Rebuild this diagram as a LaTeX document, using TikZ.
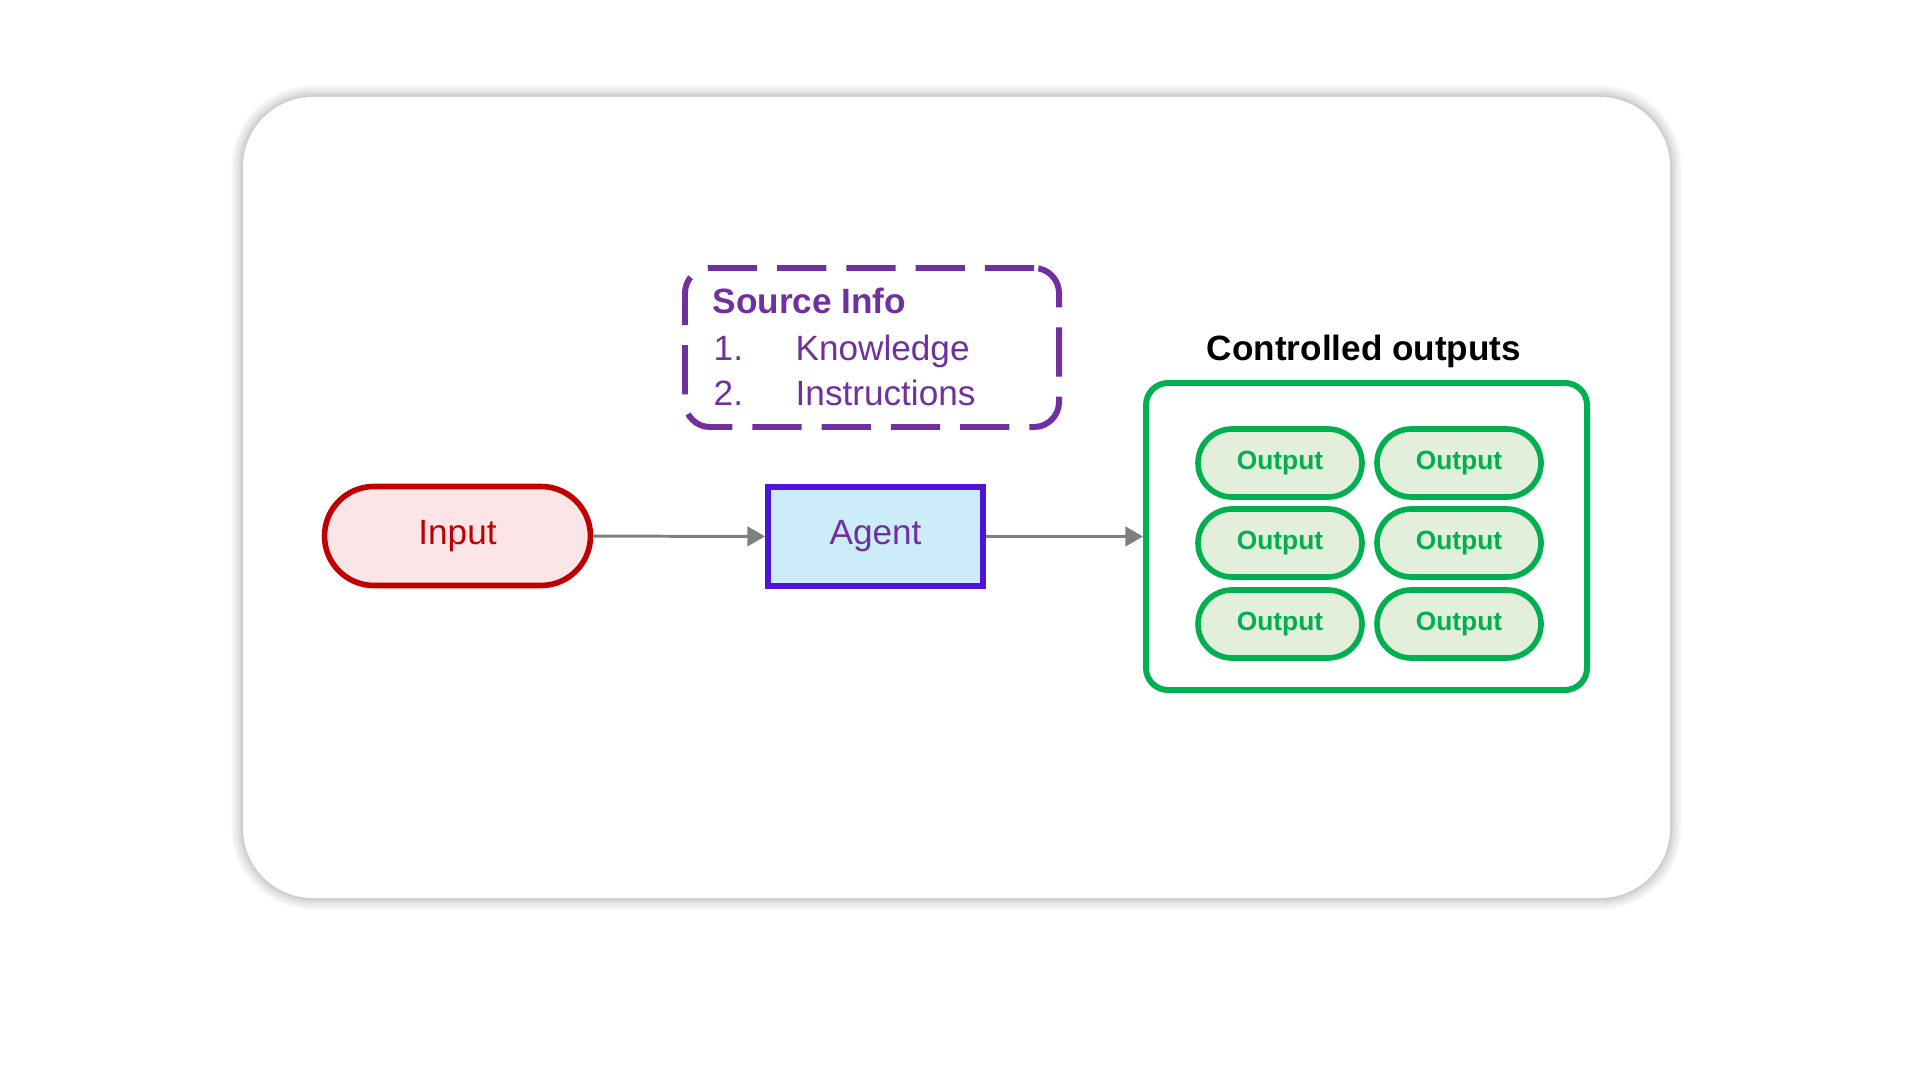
\documentclass[tikz,border=0pt]{standalone}
\usepackage{fontspec}
\setmainfont{Liberation Sans}
\usepackage{tikz}
\usetikzlibrary{arrows.meta, positioning, shapes.misc}
\definecolor{inred}{HTML}{C00000}
\definecolor{inpink}{HTML}{FBE5E6}
\definecolor{agentblue}{HTML}{4F14D8}
\definecolor{agentfill}{HTML}{CCECFA}
\definecolor{srcpurple}{HTML}{7030A0}
\definecolor{outgreen}{HTML}{00B050}
\definecolor{outfill}{HTML}{E2EFDA}
\definecolor{flowgray}{HTML}{7F7F7F}

\begin{document}
\begin{tikzpicture}[
  pill/.style={rounded rectangle, draw, line width=1.6pt, inner sep=0pt},
  inpill/.style={pill, draw=inred, fill=inpink, text=inred,
    minimum width=2.66cm, minimum height=0.99cm,
    font=\fontsize{10}{12}\selectfont},
  agentbox/.style={draw=agentblue, fill=agentfill, text=srcpurple,
    line width=1.7pt, minimum width=2.15cm, minimum height=0.99cm,
    inner sep=0pt, font=\fontsize{10}{12}\selectfont},
  srcbox/.style={draw=srcpurple, line width=1.7pt, rounded corners=0.25cm,
    dash pattern=on 14pt off 5.7pt, minimum width=3.74cm,
    minimum height=1.59cm, inner sep=0pt},
  srctext/.style={text=srcpurple, anchor=base west, inner sep=0pt,
    font=\fontsize{10}{12}\selectfont},
  outframe/.style={draw=outgreen, line width=1.7pt, rounded corners=0.22cm,
    minimum width=4.41cm, minimum height=3.07cm, inner sep=0pt},
  outpill/.style={pill, draw=outgreen, fill=outfill, text=outgreen,
    minimum width=1.64cm, minimum height=0.68cm,
    font=\fontsize{7.5}{9}\selectfont\bfseries},
  flow/.style={draw=flowgray, line width=0.85pt,
    -{Triangle[length=5pt, width=5.5pt]}}
]
  % Page and card with soft shadow
  \fill[white] (0,0) rectangle (19.2,-10.8);
  \useasboundingbox (0,0) rectangle (19.2,-10.8);
  \foreach \w/\c in {6.4pt/4, 5.1pt/7, 3.8pt/10, 2.5pt/14, 1.3pt/19} {
    \draw[black!\c, line width=\w, rounded corners=0.7cm]
      (2.43,-0.97) rectangle (16.70,-8.98);
  }
  \fill[white, rounded corners=0.7cm] (2.43,-0.97) rectangle (16.70,-8.98);
  % Input and agent
  \node[inpill] (input) at (4.575,-5.36) {Input};
  \node[agentbox] (agent) at (8.755,-5.365) {Agent};
  % Source info
  \node[srcbox] (src) at (8.72,-3.475) {};
  \node[srctext, font=\fontsize{10}{12}\selectfont\bfseries] (srchead)
    at (7.12,-3.14) {Source Info};
  \node[srctext] (num1) at (7.13,-3.60) {1.};
  \node[srctext] (item1) at (7.95,-3.60) {Knowledge};
  \node[srctext] (num2) at (7.13,-4.05) {2.};
  \node[srctext] (item2) at (7.95,-4.05) {Instructions};
  % Controlled outputs
  \node[outframe] (outbox) at (13.665,-5.365) {};
  \node[font=\fontsize{10}{12}\selectfont\bfseries, anchor=base,
    inner sep=0pt] (outlabel) at (13.64,-3.60) {Controlled outputs};
  \foreach \r [count=\i] in {4.63,5.43,6.24} {
    \foreach \c [count=\j] in {12.80,14.59} {
      \node[outpill] (out\i\j) at (\c,-\r) {Output};
    }
  }
  % Arrows
  \draw[flow] (input) -- (agent);
  \draw[flow] (agent) -- (outbox);
\end{tikzpicture}
\end{document}
